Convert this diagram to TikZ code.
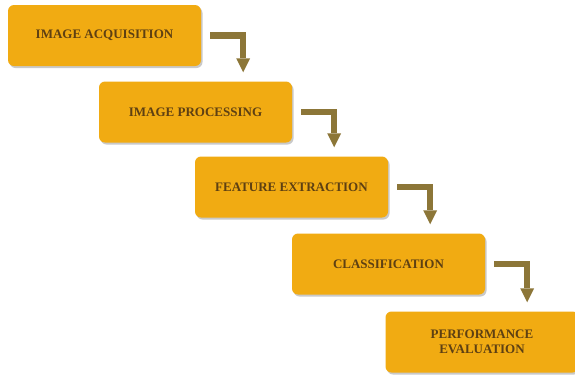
\documentclass[tikz,border=0pt]{standalone}
\usepackage{fontspec}
\setmainfont{Liberation Serif}
\usetikzlibrary{shadows,calc}
\definecolor{boxfill}{HTML}{F1AB12}
\definecolor{boxtext}{HTML}{5E4012}
\definecolor{arrowcol}{HTML}{8C7638}
\tikzset{
  stage/.style={
    draw=none, fill=boxfill, rounded corners=6pt,
    minimum width=193pt, minimum height=61pt,
    text=boxtext, font=\bfseries\fontsize{13}{15}\selectfont,
    align=center,
    drop shadow={shadow xshift=1.5pt, shadow yshift=-2pt, opacity=0.35, fill=black!60}
  },
  elbow/.style={draw=arrowcol, line width=6.5pt},
  elbowhead/.style={fill=arrowcol, draw=none}
}
\begin{document}
\begin{tikzpicture}[x=1pt,y=-1pt]
  \useasboundingbox (0,0) rectangle (575,376);
  \fill[white] (0,0) rectangle (575,376);

  \node[stage] (s1) at (104.5,35.5) {IMAGE ACQUISITION};
  \node[stage] (s2) at (195.5,112)  {IMAGE PROCESSING};
  \node[stage] (s3) at (291.5,187)  {FEATURE EXTRACTION};
  \node[stage] (s4) at (388.5,264)  {CLASSIFICATION};
  \node[stage] (s5) at (482,342)    {PERFORMANCE\\EVALUATION};

  % elbow connectors: a bar to the right, then down into the next stage
  \foreach \a/\b in {s1/s2, s2/s3, s3/s4, s4/s5}{
    \coordinate (p0) at ($(\a.east)+(9,0)$);
    \coordinate (p1) at ($(\a.east)+(42,0)$);
    \coordinate (tip) at (p1 |- \b.north);
    \coordinate (tip) at ($(tip)+(0,-9)$);
    \draw[elbow] (p0) -- (p1) -- ($(tip)+(0,-14)$);
    \fill[elbowhead] ($(tip)+(-7,-14)$) -- ($(tip)+(7,-14)$) -- (tip) -- cycle;
  }
\end{tikzpicture}
\end{document}
